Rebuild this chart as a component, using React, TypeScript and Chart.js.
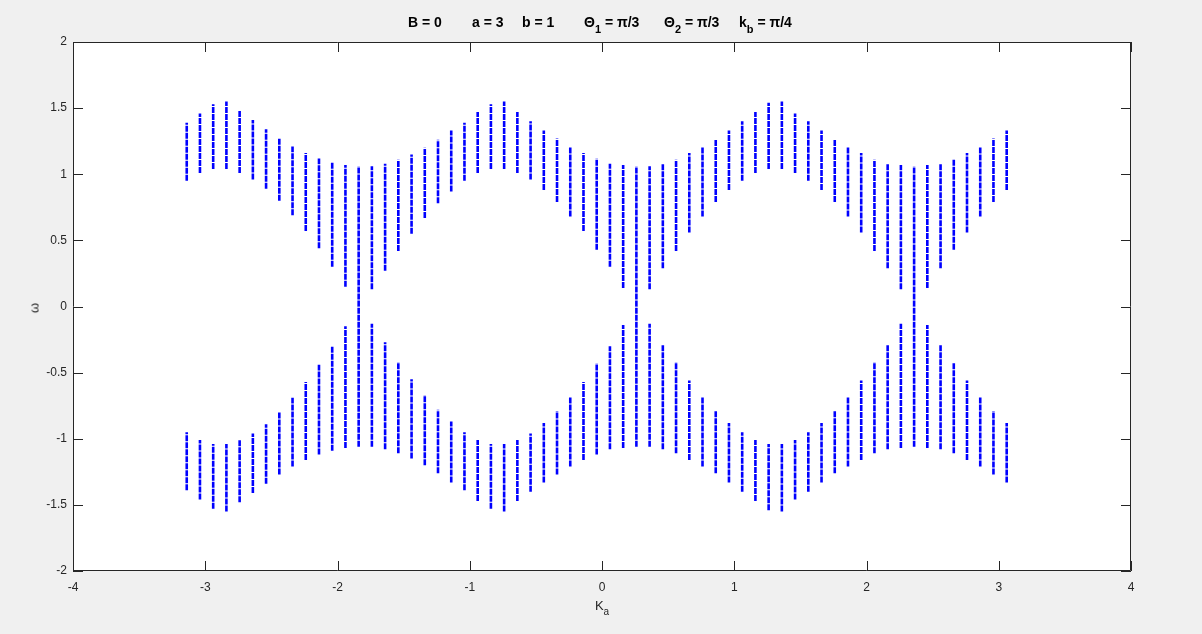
import React, { useEffect, useRef } from "react";
import { Chart, registerables } from "chart.js";

Chart.register(...registerables);

// Column positions K_a (one vertical band per column)
const KA = [
  -3.14, -3.04, -2.94, -2.84, -2.74, -2.64, -2.54, -2.44, -2.34, -2.24, -2.14,
  -2.04, -1.94, -1.84, -1.74, -1.64, -1.54, -1.44, -1.34, -1.24, -1.14, -1.04,
  -0.94, -0.84, -0.74, -0.64, -0.54, -0.44, -0.34, -0.24, -0.14, -0.04, 0.06,
  0.16, 0.26, 0.36, 0.46, 0.56, 0.66, 0.76, 0.86, 0.96, 1.06, 1.16, 1.26, 1.36,
  1.46, 1.56, 1.66, 1.76, 1.86, 1.96, 2.06, 2.16, 2.26, 2.36, 2.46, 2.56, 2.66,
  2.76, 2.86, 2.96, 3.06,
];

// Upper band (omega > 0): top and bottom of each column
const UPPER_HI = [
  1.39, 1.46, 1.53, 1.55, 1.48, 1.41, 1.34, 1.27, 1.21, 1.16, 1.12, 1.09, 1.07,
  1.06, 1.06, 1.08, 1.11, 1.15, 1.2, 1.26, 1.33, 1.39, 1.47, 1.53, 1.55, 1.47,
  1.4, 1.33, 1.27, 1.21, 1.16, 1.12, 1.08, 1.07, 1.06, 1.06, 1.08, 1.11, 1.16,
  1.21, 1.26, 1.33, 1.4, 1.47, 1.54, 1.55, 1.46, 1.4, 1.33, 1.26, 1.21, 1.16,
  1.11, 1.08, 1.07, 1.06, 1.07, 1.08, 1.11, 1.16, 1.21, 1.27, 1.33,
];
const UPPER_LO = [
  0.95, 1.01, 1.04, 1.04, 1.01, 0.96, 0.89, 0.8, 0.69, 0.57, 0.44, 0.3, 0.15,
  0.0, 0.13, 0.27, 0.42, 0.55, 0.67, 0.78, 0.87, 0.95, 1.01, 1.04, 1.04, 1.01,
  0.96, 0.88, 0.79, 0.68, 0.57, 0.43, 0.3, 0.14, 0.0, 0.13, 0.29, 0.42, 0.56,
  0.68, 0.79, 0.88, 0.95, 1.01, 1.04, 1.04, 1.01, 0.95, 0.88, 0.79, 0.68, 0.56,
  0.42, 0.29, 0.13, 0.0, 0.14, 0.29, 0.43, 0.56, 0.68, 0.79, 0.88,
];

// Lower band (omega < 0): top and bottom of each column
const LOWER_HI = [
  -0.95, -1.01, -1.04, -1.04, -1.01, -0.96, -0.89, -0.8, -0.69, -0.57, -0.44,
  -0.3, -0.15, 0.0, -0.13, -0.27, -0.42, -0.55, -0.67, -0.78, -0.87, -0.95,
  -1.01, -1.04, -1.04, -1.01, -0.96, -0.88, -0.79, -0.68, -0.57, -0.43, -0.3,
  -0.14, 0.0, -0.13, -0.29, -0.42, -0.56, -0.68, -0.79, -0.88, -0.95, -1.01,
  -1.04, -1.04, -1.01, -0.95, -0.88, -0.79, -0.68, -0.56, -0.42, -0.29, -0.13,
  0.0, -0.14, -0.29, -0.43, -0.56, -0.68, -0.79, -0.88,
];
const LOWER_LO = [
  -1.39, -1.46, -1.53, -1.55, -1.48, -1.41, -1.34, -1.27, -1.21, -1.16, -1.12,
  -1.09, -1.07, -1.06, -1.06, -1.08, -1.11, -1.15, -1.2, -1.26, -1.33, -1.39,
  -1.47, -1.53, -1.55, -1.47, -1.4, -1.33, -1.27, -1.21, -1.16, -1.12, -1.08,
  -1.07, -1.06, -1.06, -1.08, -1.11, -1.16, -1.21, -1.26, -1.33, -1.4, -1.47,
  -1.54, -1.55, -1.46, -1.4, -1.33, -1.26, -1.21, -1.16, -1.11, -1.08, -1.07,
  -1.06, -1.07, -1.08, -1.11, -1.16, -1.21, -1.27, -1.33,
];

const X_MIN = -4;
const X_MAX = 4;
const X_STEP = 1;
const Y_MIN = -2;
const Y_MAX = 2;
const Y_STEP = 0.5;

const AXIS_COLOR = "#262626";
const FONT = "'Liberation Sans', Arial, Helvetica, sans-serif";

function bandPoints(lo: number[], hi: number[]) {
  const pts: { x: number; y: number | null }[] = [];
  KA.forEach((x, i) => {
    pts.push({ x, y: lo[i] }, { x, y: hi[i] }, { x, y: null });
  });
  return pts;
}

const boxPlugin = {
  id: "matlabBox",
  beforeDraw(chart: any) {
    const { ctx, chartArea } = chart;
    const { left, top, right, bottom } = chartArea;
    ctx.save();
    ctx.fillStyle = "#ffffff";
    ctx.fillRect(left, top, right - left, bottom - top);
    ctx.restore();
  },
  afterDraw(chart: any) {
    const { ctx, chartArea, scales } = chart;
    const { left, top, right, bottom } = chartArea;
    const TL = 10;
    ctx.save();
    ctx.strokeStyle = AXIS_COLOR;
    ctx.lineWidth = 1;
    ctx.beginPath();
    ctx.rect(Math.round(left) + 0.5, Math.round(top) + 0.5, Math.round(right - left) - 1, Math.round(bottom - top) - 1);
    ctx.stroke();
    ctx.beginPath();
    scales.x.ticks.forEach((t: any) => {
      const px = Math.round(scales.x.getPixelForValue(t.value)) + 0.5;
      ctx.moveTo(px, bottom);
      ctx.lineTo(px, bottom - TL);
      ctx.moveTo(px, top);
      ctx.lineTo(px, top + TL);
    });
    scales.y.ticks.forEach((t: any) => {
      const py = Math.round(scales.y.getPixelForValue(t.value)) + 0.5;
      ctx.moveTo(left, py);
      ctx.lineTo(left + TL, py);
      ctx.moveTo(right, py);
      ctx.lineTo(right - TL, py);
    });
    ctx.stroke();
    ctx.restore();
  },
};

export default function App() {
  const canvasRef = useRef<HTMLCanvasElement | null>(null);

  useEffect(() => {
    document.body.style.margin = "0";
    const canvas = canvasRef.current;
    if (!canvas) return;
    const bandStyle = {
      showLine: true,
      spanGaps: false,
      borderColor: "#0000ff",
      borderWidth: 2.6,
      borderDash: [6, 1],
      pointRadius: 0,
      pointHoverRadius: 0,
      tension: 0,
    };
    const chart = new Chart(canvas, {
      type: "scatter",
      data: {
        datasets: [
          { label: "upper", data: bandPoints(UPPER_LO, UPPER_HI), ...bandStyle },
          { label: "lower", data: bandPoints(LOWER_LO, LOWER_HI), ...bandStyle },
        ] as any,
      },
      options: {
        animation: false,
        responsive: false,
        devicePixelRatio: 1,
        events: [],
        layout: { padding: { left: 0, top: 42, right: 71, bottom: 0 } },
        plugins: {
          legend: { display: false },
          tooltip: { enabled: false },
          title: { display: false },
        },
        scales: {
          x: {
            type: "linear",
            min: X_MIN,
            max: X_MAX,
            grid: { display: false, drawTicks: false },
            border: { display: false },
            ticks: {
              stepSize: X_STEP,
              autoSkip: false,
              maxRotation: 0,
              padding: 9,
              color: AXIS_COLOR,
              font: { family: FONT, size: 12 },
              callback: (v: any) => String(v),
            },
            afterFit: (s: any) => {
              s.height = 63;
            },
          },
          y: {
            type: "linear",
            min: Y_MIN,
            max: Y_MAX,
            grid: { display: false, drawTicks: false },
            border: { display: false },
            ticks: {
              stepSize: Y_STEP,
              autoSkip: false,
              padding: 6,
              color: AXIS_COLOR,
              font: { family: FONT, size: 12 },
              callback: (v: any) => String(v),
            },
            afterFit: (s: any) => {
              s.width = 73;
            },
          },
        },
      } as any,
      plugins: [boxPlugin],
    });
    return () => chart.destroy();
  }, []);

  const titleStyle: React.CSSProperties = {
    position: "absolute",
    top: 14,
    fontFamily: FONT,
    fontWeight: "bold",
    fontSize: 14,
    lineHeight: "16px",
    color: "#000",
    whiteSpace: "pre",
  };
  const sub = (t: string, size: number, drop: number) => (
    <span style={{ position: "relative", top: drop, fontSize: size }}>{t}</span>
  );

  return (
    <div
      style={{
        position: "relative",
        width: 1202,
        height: 634,
        background: "#f0f0f0",
        overflow: "hidden",
      }}
    >
      <canvas ref={canvasRef} width={1202} height={634} style={{ display: "block" }} />
      <div style={{ ...titleStyle, left: 408 }}>B = 0</div>
      <div style={{ ...titleStyle, left: 472 }}>a = 3</div>
      <div style={{ ...titleStyle, left: 522 }}>b = 1</div>
      <div style={{ ...titleStyle, left: 584 }}>
        Θ{sub("1", 11, 6)} = π/3
      </div>
      <div style={{ ...titleStyle, left: 664 }}>
        Θ{sub("2", 11, 6)} = π/3
      </div>
      <div style={{ ...titleStyle, left: 739 }}>
        k{sub("b", 11, 6)} = π/4
      </div>
      <div
        style={{
          position: "absolute",
          left: 602,
          top: 598,
          transform: "translateX(-50%)",
          fontFamily: FONT,
          fontSize: 13,
          lineHeight: "15px",
          color: AXIS_COLOR,
          whiteSpace: "pre",
        }}
      >
        K{sub("a", 10, 5)}
      </div>
      <div
        style={{
          position: "absolute",
          left: 33.5,
          top: 307.5,
          transform: "translate(-50%, -50%) rotate(-90deg)",
          fontFamily: FONT,
          fontSize: 13,
          lineHeight: "15px",
          color: AXIS_COLOR,
        }}
      >
        ω
      </div>
    </div>
  );
}
